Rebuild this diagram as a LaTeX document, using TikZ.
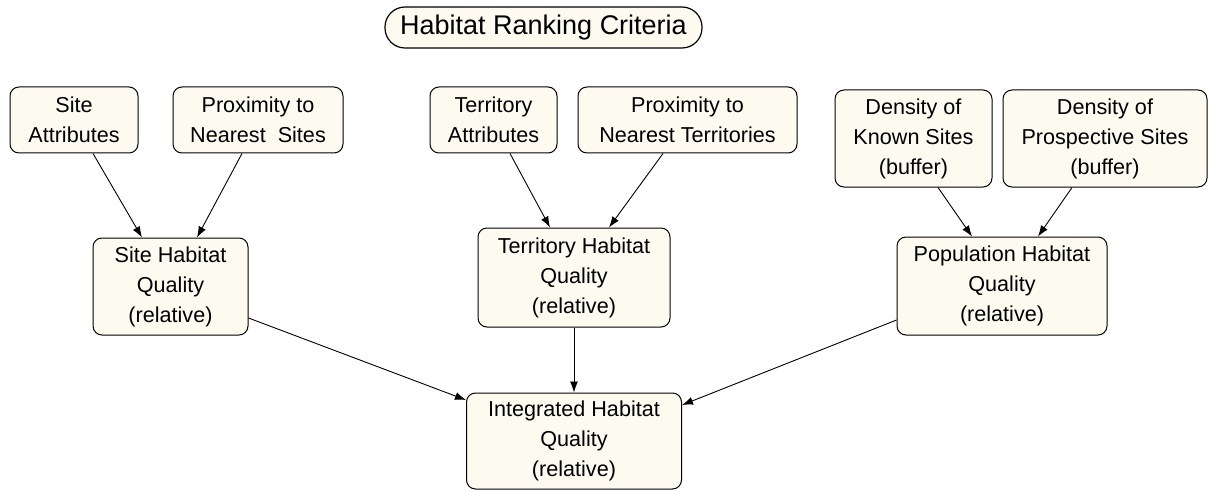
\documentclass[tikz,border=0pt]{standalone}
\usepackage{fontspec}
\setmainfont{Liberation Sans}
\usepackage{tikz}
\usetikzlibrary{positioning}
\usetikzlibrary{arrows.meta}
\usetikzlibrary{calc}

\definecolor{cream}{RGB}{253,250,240}

\begin{document}
\begin{tikzpicture}[x=0.5pt, y=-0.5pt, >={Latex[length=5.5pt,width=4pt]},
	box/.style = {draw, fill=cream, rounded corners=4.5pt, line width=0.5pt, align=center,
		inner sep=1pt, font=\fontsize{10.8}{15}\selectfont},
	link/.style = {->, line width=0.45pt}]
\useasboundingbox (0,0) rectangle (1210,492);

\node[draw, fill=cream, rounded corners=10pt, line width=0.6pt, minimum width=158.5pt, minimum height=20.5pt,
	font=\fontsize{13.5}{16}\selectfont] (title) at (543.5,27.5) {Habitat Ranking Criteria};

% inputs
\node[box, minimum width=64pt, minimum height=33pt] (attr1) at (74,120) {Site\\Attributes};
\node[box, minimum width=85pt, minimum height=33pt] (prox1) at (258,120) {Proximity to\\Nearest\ \ Sites};
\node[box, minimum width=63.5pt, minimum height=33pt] (attr2) at (493.5,120) {Territory\\Attributes};
\node[box, minimum width=109.5pt, minimum height=33pt] (prox2) at (687.5,120) {Proximity to\\Nearest Territories};
\node[box, minimum width=78.5pt, minimum height=48.5pt] (dens1) at (913.5,138.5) {Density of\\Known Sites\\(buffer)};
\node[box, minimum width=102pt, minimum height=48.5pt] (dens2) at (1105,138.5) {Density of\\Prospective Sites\\(buffer)};

% quality
\node[box, minimum width=77.5pt, minimum height=48.5pt] (qual1) at (170.5,286.5) {Site Habitat\\Quality\\(relative)};
\node[box, minimum width=96pt, minimum height=49.5pt] (qual2) at (574,277.5) {Territory Habitat\\Quality\\(relative)};
\node[box, minimum width=105pt, minimum height=49pt] (qual3) at (1002,286) {Population Habitat\\Quality\\(relative)};

\node[box, minimum width=107.5pt, minimum height=48pt] (total) at (574,441) {Integrated Habitat\\Quality\\(relative)};

\draw[link] ($(attr1.south)+(19,0)$) -- ($(qual1.north)+(-28.5,0)$);
\draw[link] ($(prox1.south)+(-16,0)$) -- ($(qual1.north)+(26.5,0)$);
\draw[link] ($(attr2.south)+(16.5,0)$) -- ($(qual2.north)+(-24,0)$);
\draw[link] ($(prox2.south)+(-24.5,0)$) -- ($(qual2.north)+(35,0)$);
\draw[link] ($(dens1.south)+(24.5,0)$) -- ($(qual3.north)+(-30,0)$);
\draw[link] ($(dens2.south)+(-33,0)$) -- ($(qual3.north)+(36,0)$);

\draw[link] ($(qual1.east)+(0,31.5)$) -- ($(total.west)+(0,-41)$);
\draw[link] (qual2.south) -- (total.north);
\draw[link] ($(qual3.west)+(0,34)$) -- ($(total.east)+(0,-36)$);
\end{tikzpicture}
\end{document}
